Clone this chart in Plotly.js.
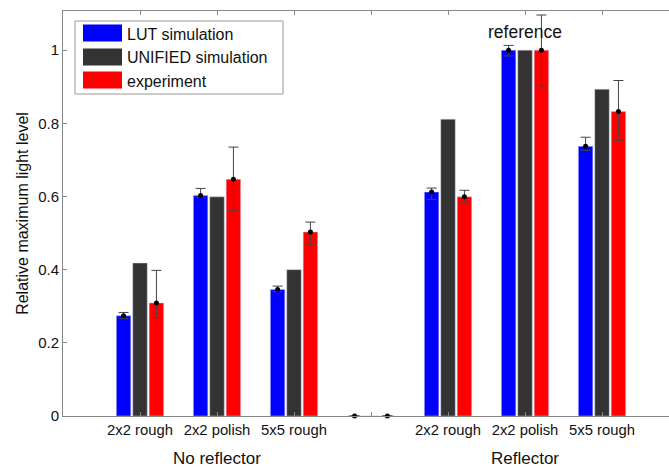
<!DOCTYPE html>
<html>
<head>
<meta charset="utf-8">
<script src="https://cdn.plot.ly/plotly-3.0.1.min.js"></script>
<style>html,body{margin:0;padding:0;background:#fff;}#chart{width:669px;height:468px;}</style>
</head>
<body>
<div id="chart"></div>
<script>
// ---- data ----
const positions = [1, 2, 3, 4, 5, 6, 7];
const tickLabels = ['2x2 rough', '2x2 polish', '5x5 rough', '', '2x2 rough', '2x2 polish', '5x5 rough'];
const groupLabels = ['No reflector', 'Reflector'];
const groupPositions = [2, 6];
const seriesNames = ['LUT simulation', 'UNIFIED simulation', 'experiment'];

const lut = [0.274, 0.603, 0.346, 0, 0.612, 1.0, 0.737];
const lutErrPlus = [0.009, 0.019, 0.009, 0, 0.011, 0.013, 0.025];
const lutErrMinus = [0.008, 0.005, 0.006, 0, 0.020, 0.016, 0.011];

const unified = [0.418, 0.599, 0.400, 0, 0.811, 1.0, 0.893];

const experiment = [0.309, 0.647, 0.503, 0, 0.599, 1.0, 0.832];
const expErrPlus = [0.089, 0.088, 0.027, 0, 0.018, 0.096, 0.085];
const expErrMinus = [0.040, 0.086, 0.033, 0, 0.014, 0.098, 0.078];

const refLabel = 'reference';
const refPosition = 6;
const refValue = 1.05;

// ---- style ----
const colors = ['#0000ff', '#333333', '#ff0000'];
const font = 'Liberation Sans, Arial, sans-serif';
const bargap = 0.36;
const slot = (1 - bargap) / 3;

const W = 669, H = 468, mL = 63, mR = 0, mT = 11, mB = 52;
const pw = W - mL - mR, ph = H - mT - mB;
const pxX = x => (x - mL) / pw;
const pxY = y => (H - mB - y) / ph;

const barTrace = (vals, i) => ({
  type: 'bar', x: positions, y: vals, name: seriesNames[i],
  marker: {color: colors[i], line: {width: 0.6, color: 'rgba(200,200,230,0.8)'}},
  showlegend: false, hoverinfo: 'y'
});

const errTrace = (vals, plus, minus, off) => ({
  type: 'scatter', mode: 'markers',
  x: positions.map(p => p + off), y: vals,
  marker: {color: '#000', size: 5},
  error_y: {type: 'data', symmetric: false, array: plus, arrayminus: minus,
            color: '#444', thickness: 1, width: 5},
  cliponaxis: false, showlegend: false, hoverinfo: 'y'
});

const data = [
  barTrace(lut, 0), barTrace(unified, 1), barTrace(experiment, 2),
  errTrace(lut, lutErrPlus, lutErrMinus, -slot),
  errTrace(experiment, expErrPlus, expErrMinus, slot)
];

// custom legend (bar-shaped swatches)
const shapes = [{
  type: 'rect', xref: 'paper', yref: 'paper',
  x0: pxX(75), x1: pxX(283), y0: pxY(21), y1: pxY(94),
  line: {color: '#999', width: 1}, fillcolor: '#fff', layer: 'above'
}];
const annotations = [];
const legendCenters = [33, 57, 80];
seriesNames.forEach((n, i) => {
  const c = legendCenters[i];
  shapes.push({type: 'rect', xref: 'paper', yref: 'paper',
    x0: pxX(83), x1: pxX(122), y0: pxY(c + 8.5), y1: pxY(c - 8.5),
    line: {width: 0}, fillcolor: colors[i], layer: 'above'});
  annotations.push({xref: 'paper', yref: 'paper', x: pxX(125), y: pxY(c + 1),
    xanchor: 'left', yanchor: 'middle', text: n, showarrow: false,
    font: {family: font, size: 16, color: '#111'}});
});

groupLabels.forEach((g, i) => {
  annotations.push({xref: 'x', yref: 'paper', x: groupPositions[i], y: 0,
    yanchor: 'middle', yshift: -42, text: g, showarrow: false,
    font: {family: font, size: 17, color: '#111'}});
});
annotations.push({xref: 'x', yref: 'y', x: refPosition, y: refValue, text: refLabel,
  showarrow: false, font: {family: font, size: 17.5, color: '#111'}});

const layout = {
  width: W, height: H,
  margin: {l: mL, r: mR, t: mT, b: mB},
  paper_bgcolor: '#fff', plot_bgcolor: '#fff',
  barmode: 'group', bargap: bargap, bargroupgap: 0.12,
  showlegend: false,
  font: {family: font, color: '#111'},
  xaxis: {
    range: [0, 7.87], tickvals: positions, ticktext: tickLabels,
    ticks: 'inside', ticklen: 4, tickcolor: '#888', tickwidth: 1,
    showline: true, linecolor: '#888', linewidth: 1, mirror: 'allticks',
    showgrid: false, zeroline: false,
    tickfont: {family: font, size: 14.8, color: '#111'}
  },
  yaxis: {
    range: [0, 1.107], tickvals: [0, 0.2, 0.4, 0.6, 0.8, 1],
    ticktext: ['0', '0.2', '0.4', '0.6', '0.8', '1'],
    ticks: 'inside', ticklen: 4, tickcolor: '#888', tickwidth: 1,
    showline: true, linecolor: '#888', linewidth: 1,
    showgrid: false, zeroline: false,
    tickfont: {family: font, size: 15, color: '#111'},
    title: {text: 'Relative maximum light level', standoff: 5,
            font: {family: font, size: 16, color: '#111'}}
  },
  shapes: shapes,
  annotations: annotations
};

Plotly.newPlot('chart', data, layout, {staticPlot: true});
</script>
</body>
</html>
